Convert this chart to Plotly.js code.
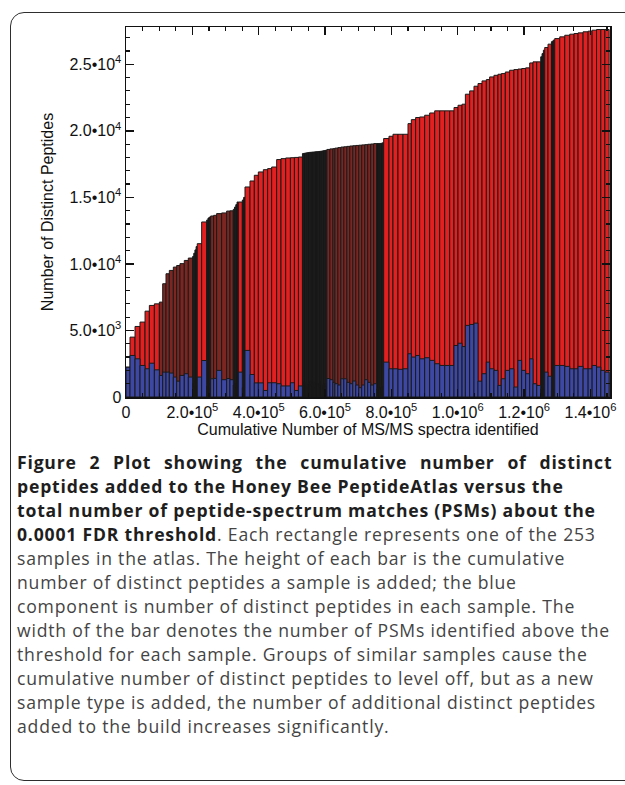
<!DOCTYPE html>
<html>
<head>
<meta charset="utf-8">
<script src="https://cdn.plot.ly/plotly-3.0.1.min.js"></script>
<style>
  html, body { margin: 0; padding: 0; background: #ffffff; overflow: hidden; }
  #wrap { position: relative; width: 625px; height: 785px; overflow: hidden; }
  #frame { position: absolute; left: 10px; top: 12px; width: 660px; height: 769px;
           border: 1.5px solid #2e2e2e; border-radius: 14px; box-sizing: border-box; }
  #chart { position: absolute; left: 0; top: 0; width: 625px; height: 785px; }
</style>
</head>
<body>
<div id="wrap">
  <div id="frame"></div>
  <div id="chart"></div>
</div>
<script>
// PSMs identified above threshold for each sample (bar widths)
const psms = [
  12100, 15100, 15100, 15100, 13000, 15100, 15100, 10000, 10000, 10000,
  12100, 10000, 10000, 13000, 12100, 13000, 3500, 3500, 3500, 3500,
  13300, 15100, 4000, 4000, 4000, 9000, 9000, 15100, 15100, 10000,
  10000, 3800, 3800, 3800, 3800, 12100, 4000, 4000, 15100, 13000,
  12100, 15100, 13000, 12100, 15100, 13000, 14200, 14200, 12100, 12100,
  12100, 4100, 4100, 4100, 4100, 4100, 4100, 4100, 4100, 4100,
  4100, 4100, 4100, 4100, 4100, 4100, 4100, 4100, 4100, 9000,
  9000, 6000, 9000, 9000, 9000, 9000, 9000, 9000, 9000, 9000,
  9000, 9000, 9000, 9000, 9000, 9000, 4200, 4200, 4200, 4200,
  4200, 16000, 12100, 15100, 15100, 15100, 10000, 13000, 12100, 15100,
  15100, 15100, 15100, 15100, 15100, 13000, 12100, 12100, 10000, 13000,
  13000, 12100, 12100, 13000, 10000, 13000, 12100, 10000, 12100, 13000,
  13000, 12100, 11200, 12100, 12100, 10000, 11200, 12100, 4000, 4000,
  4000, 10000, 10200, 5000, 5000, 15100, 15100, 15100, 13000, 12100,
  15100, 15100, 12100, 13300, 13000, 12100, 13000
];
// cumulative number of distinct peptides after each sample (bar heights)
const cumulativePeptides = [
  2240, 4500, 5300, 5630, 6450, 6880, 7000, 7130, 8510, 9260,
  9510, 9760, 9880, 10020, 10260, 10440, 10560, 10800, 11050, 11300,
  11520, 13150, 13300, 13450, 13520, 13600, 13650, 13780, 13830, 13970,
  13990, 14100, 14270, 14450, 14650, 14650, 14800, 15000, 15780, 16230,
  16660, 16910, 17080, 17160, 17280, 17840, 17910, 17960, 17980, 18000,
  18030, 18290, 18310, 18330, 18350, 18360, 18380, 18390, 18400, 18410,
  18420, 18430, 18440, 18450, 18460, 18480, 18500, 18520, 18540, 18600,
  18640, 18660, 18700, 18740, 18780, 18800, 18830, 18860, 18880, 18900,
  18920, 18940, 18960, 18990, 19010, 19040, 19040, 19040, 19050, 19060,
  19100, 19420, 19590, 19740, 19740, 19740, 20540, 20840, 21000, 21040,
  21170, 21340, 21500, 21500, 21500, 21500, 21750, 21920, 22000, 22750,
  23000, 23350, 23550, 23750, 23850, 24050, 24170, 24250, 24300, 24420,
  24550, 24600, 24640, 24680, 24730, 25100, 25180, 25180, 25560, 25800,
  26060, 26260, 26510, 26700, 26810, 26930, 27060, 27180, 27260, 27310,
  27360, 27440, 27490, 27560, 27610, 27610, 27610
];
// distinct peptides in each sample (blue component)
const samplePeptides = [
  2240, 3120, 2870, 2370, 2120, 2540, 2040, 1620, 1870, 1870,
  1800, 1500, 1190, 1620, 1750, 1500, 1000, 800, 1200, 900,
  1500, 2740, 800, 1000, 600, 1370, 1400, 2000, 1300, 1390,
  1300, 900, 1000, 700, 800, 1870, 700, 900, 3500, 1690,
  1060, 1060, 490, 1070, 1070, 1000, 830, 830, 1070, 490,
  830, 900, 1100, 800, 700, 1000, 1200, 900, 800, 1100,
  700, 900, 1000, 800, 1200, 900, 700, 1000, 800, 1390,
  1300, 1100, 1000, 900, 1370, 1370, 1100, 1000, 1200, 900,
  700, 900, 1300, 1100, 900, 1000, 600, 500, 700, 600,
  800, 2620, 2120, 2120, 2080, 2120, 3250, 3000, 3120, 2870,
  2950, 2750, 2500, 2370, 2370, 2370, 3870, 4040, 3790, 5380,
  5450, 5550, 1190, 1750, 2620, 2120, 2000, 870, 1370, 2000,
  2120, 750, 2750, 2000, 1750, 2870, 1000, 870, 600, 700,
  500, 1870, 1560, 500, 600, 2370, 2370, 2300, 2120, 2120,
  2300, 2120, 2120, 2370, 2250, 2000, 1870
];
const xTickVals = [0, 200000, 400000, 600000, 800000, 1000000, 1200000, 1400000];
const xTickText = ['0', '2.0•10<sup>5</sup>', '4.0•10<sup>5</sup>', '6.0•10<sup>5</sup>', '8.0•10<sup>5</sup>',
                   '1.0•10<sup>6</sup>', '1.2•10<sup>6</sup>', '1.4•10<sup>6</sup>'];
const yTickVals = [0, 5000, 10000, 15000, 20000, 25000];
const yTickText = ['0', '5.0•10<sup>3</sup>', '1.0•10<sup>4</sup>', '1.5•10<sup>4</sup>', '2.0•10<sup>4</sup>', '2.5•10<sup>4</sup>'];

const captionLines = [
  '<b>Figure 2 Plot showing the cumulative number of distinct</b>',
  '<b>peptides added to the Honey Bee PeptideAtlas versus the</b>',
  '<b>total number of peptide-spectrum matches (PSMs) about the</b>',
  '<span style="color:#1e1e1e"><b>0.0001 FDR threshold</b></span>. Each rectangle represents one of the 253',
  'samples in the atlas. The height of each bar is the cumulative',
  'number of distinct peptides a sample is added; the blue',
  'component is number of distinct peptides in each sample. The',
  'width of the bar denotes the number of PSMs identified above the',
  'threshold for each sample. Groups of similar samples cause the',
  'cumulative number of distinct peptides to level off, but as a new',
  'sample type is added, the number of additional distinct peptides',
  'added to the build increases significantly.'
];

// style: PSM ranges whose bars appear as darker (brownish) red in the figure
const darkRedRanges = [[100000, 205000], [250000, 325000], [600000, 760000]];

// bar centres from cumulative PSM widths
let acc = 0;
const centers = psms.map(w => { const c = acc + w / 2; acc += w; return c; });

const RED = '#e41f1f', DARKRED = '#7c2622', BLACK = '#161616', BLUE = '#3c48a3';
const redFill = centers.map((c, i) => {
  if (psms[i] < 6000) return BLACK;
  if (darkRedRanges.some(r => c >= r[0] && c <= r[1])) return DARKRED;
  return RED;
});
const blueFill = centers.map((c, i) => (psms[i] < 6000 ? BLACK : BLUE));

const W = 625, H = 785, ML = 126, MR = 15, MT = 27, MB = 388;
const pw = W - ML - MR, ph = H - MT - MB;
const px2x = px => (px - ML) / pw;
const py2y = py => (H - MB - py) / ph;

const lineCol = '#1a1a1a';
const traces = [
  {
    type: 'bar', x: centers, y: cumulativePeptides, width: psms,
    marker: { color: redFill, line: { color: lineCol, width: 1 } },
    hoverinfo: 'skip'
  },
  {
    type: 'bar', x: centers, y: samplePeptides, width: psms,
    marker: { color: blueFill, line: { color: lineCol, width: 1 } },
    hoverinfo: 'skip'
  }
];

const tickFont = { family: 'Liberation Sans, Arial, sans-serif', size: 16, color: '#111' };
const annotations = captionLines.map((t, i) => {
  const bold = i < 3;
  const spacing = i === 0 ? 'letter-spacing:0.8px;word-spacing:7.4px' : 'letter-spacing:0.8px';
  return {
    xref: 'paper', yref: 'paper', x: px2x(17), y: py2y(462 + 24 * i),
    xanchor: 'left', yanchor: 'middle', showarrow: false, align: 'left',
    borderpad: 0, borderwidth: 0,
    text: '<span style="' + spacing + '">' + t + '</span>',
    font: { family: 'Open Sans, Noto Sans, sans-serif', size: 17.6, color: bold ? '#1e1e1e' : '#444444' }
  };
});

const layout = {
  width: W, height: H,
  margin: { l: ML, r: MR, t: MT, b: MB, pad: 0 },
  paper_bgcolor: 'rgba(0,0,0,0)', plot_bgcolor: '#ffffff',
  barmode: 'overlay', showlegend: false,
  font: tickFont,
  xaxis: {
    range: [0, 1459000], tickvals: xTickVals, ticktext: xTickText,
    ticks: 'inside', ticklen: 8, tickwidth: 1.5, tickcolor: '#111',
    showline: true, linecolor: '#111', linewidth: 1.5, mirror: 'allticks',
    showgrid: false, zeroline: false, tickfont: tickFont,
    minor: { dtick: 50000, tick0: 0, ticks: 'inside', ticklen: 4, tickwidth: 1.2, tickcolor: '#111', showgrid: false },
    title: { text: 'Cumulative Number of MS/MS spectra identified', font: tickFont, standoff: 4 }
  },
  yaxis: {
    range: [0, 27800], tickvals: yTickVals, ticktext: yTickText,
    ticks: 'inside', ticklen: 8, tickwidth: 1.5, tickcolor: '#111',
    showline: true, linecolor: '#111', linewidth: 1.5, mirror: 'allticks',
    showgrid: false, zeroline: false, tickfont: tickFont,
    minor: { dtick: 1000, tick0: 0, ticks: 'inside', ticklen: 4, tickwidth: 1.2, tickcolor: '#111', showgrid: false },
    title: { text: 'Number of Distinct Peptides', font: tickFont, standoff: 12 }
  },
  annotations: annotations
};

Plotly.newPlot('chart', traces, layout, { staticPlot: true, displayModeBar: false });
</script>
</body>
</html>
